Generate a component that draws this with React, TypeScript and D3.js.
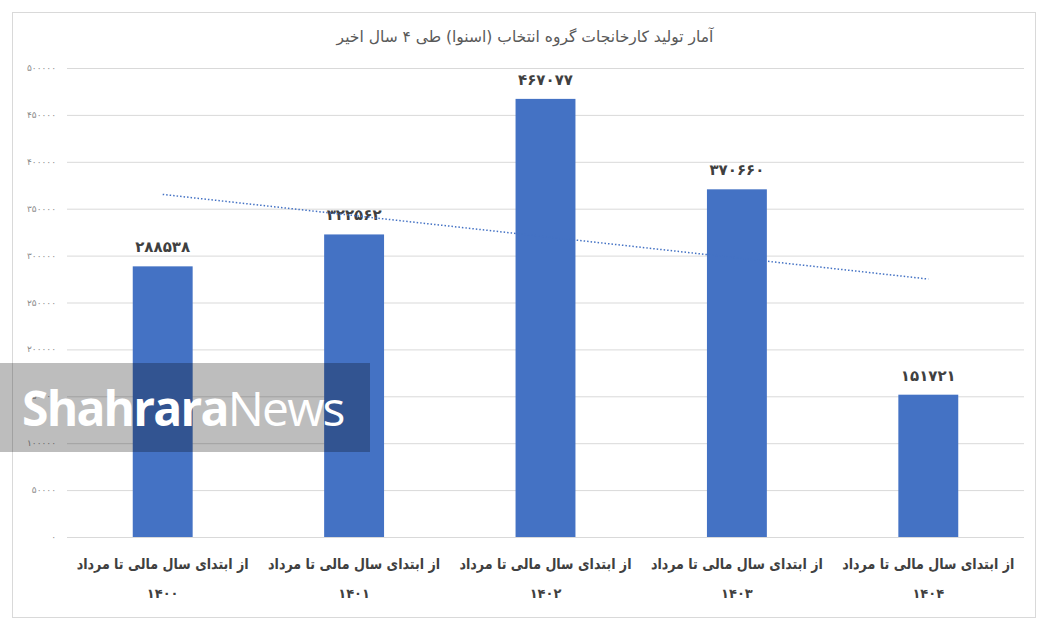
import * as React from "react"
import * as d3 from "d3"

const categories = ["1400", "1401", "1402", "1403", "1404"]
const values = [288538, 322562, 467077, 370660, 151721]
const yTicks = [0, 50000, 100000, 150000, 200000, 250000, 300000, 350000, 400000, 450000, 500000]
const catLabel = "از ابتدای سال مالی تا مرداد"
const title = "آمار تولید کارخانجات گروه انتخاب (اسنوا)  طی 4 سال اخیر"

const W = 1052
const H = 633
const margin = { top: 68, right: 28, bottom: 96, left: 67 }
const FONT = "'DejaVu Sans', 'Noto Sans', sans-serif"
const FONT_C = "'DejaVu Sans Condensed', 'DejaVu Sans', sans-serif"

// persian digits
const fa = (s: string | number): string => String(s).replace(/\d/g, (d) => "۰۱۲۳۴۵۶۷۸۹"[+d])

const App = (): JSX.Element => {
    const x = d3.scaleBand<string>()
        .domain(categories)
        .range([margin.left, W - margin.right])
        .padding(0)
    const y = d3.scaleLinear()
        .domain([0, 500000])
        .range([H - margin.bottom, margin.top])
    const barW = x.bandwidth() * 0.313

    // linear trendline (least squares over index)
    const idx = values.map((_, i) => i + 1)
    const mx = d3.mean(idx) as number
    const my = d3.mean(values) as number
    const slope = d3.sum(idx, (v, i) => (v - mx) * (values[i] - my)) / d3.sum(idx, (v) => (v - mx) * (v - mx))
    const trend = (i: number) => my + slope * (i - mx)
    const cx = (c: string) => (x(c) as number) + x.bandwidth() / 2
    const last = categories.length - 1
    const trendPath = d3.line<[string, number]>()
        .x((d) => cx(d[0]))
        .y((d) => y(d[1]))([[categories[0], trend(1)], [categories[last], trend(last + 1)]])

    return (
        <svg width={W} height={H} style={{ position: "absolute", left: 0, top: 0, background: "#fff" }}>
            <rect x={12.5} y={12.5} width={1023} height={605} fill="#fff" stroke="#d9d9d9" />
            <text x={525} y={42} textAnchor="middle" direction="rtl" fontFamily={FONT} fontSize={15.5} fill="#595959">
                {fa(title)}
            </text>

            {/* grid + y ticks */}
            {yTicks.map((t) => (
                <g key={t}>
                    <line x1={margin.left} x2={W - margin.right} y1={y(t) + 0.5} y2={y(t) + 0.5} stroke="#d9d9d9" />
                    <text x={56} y={y(t) + 3} textAnchor="end" fontFamily={FONT} fontSize={9} fill="#8c8c8c">
                        {fa(t)}
                    </text>
                </g>
            ))}

            {/* bars */}
            {values.map((v, i) => (
                <rect key={i} x={cx(categories[i]) - barW / 2} y={y(v)} width={barW} height={y(0) - y(v)} fill="#4472c4" />
            ))}

            {/* value labels */}
            {values.map((v, i) => (
                <text key={i} x={cx(categories[i])} y={y(v) - 14} textAnchor="middle" fontFamily={FONT}
                    fontWeight="bold" fontSize={15} fill="#404040">
                    {fa(v)}
                </text>
            ))}

            {/* trendline */}
            <path d={trendPath || ""} fill="none" stroke="#4472c4" strokeWidth={1.5} strokeDasharray="1.5 2" />

            {/* category labels */}
            {categories.map((c) => (
                <g key={c}>
                    <text x={cx(c)} y={569} textAnchor="middle" direction="rtl" fontFamily={FONT_C} fontWeight="bold"
                        fontSize={15} fill="#404040" textLength={172} lengthAdjust="spacingAndGlyphs">
                        {catLabel}
                    </text>
                    <text x={cx(c)} y={598} textAnchor="middle" fontFamily={FONT} fontWeight="bold"
                        fontSize={13} fill="#404040">
                        {fa(c)}
                    </text>
                </g>
            ))}

            {/* watermark */}
            <rect x={0} y={363} width={370} height={89} fill="#000" fillOpacity={0.26} />
            <text x={22} y={426} fontFamily="'Open Sans', Lato, sans-serif" fontSize={48} fill="#fff" letterSpacing={-1.8}>
                <tspan fontWeight="bold">Shahrara</tspan>
                <tspan fontWeight="normal">News</tspan>
            </text>
        </svg>
    )
}

export default App
